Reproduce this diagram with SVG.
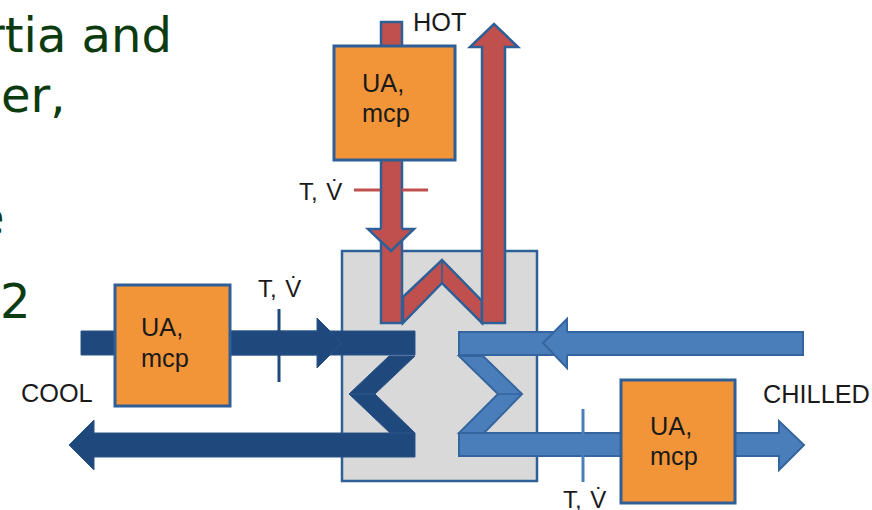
<svg xmlns="http://www.w3.org/2000/svg" width="872" height="510" viewBox="0 0 872 510">
<style>
.bg{font-family:"DejaVu Sans",sans-serif;font-size:48px;fill:#0d3b10}
.t{font-family:"Liberation Sans",Arial,sans-serif;font-size:25.3px;fill:#1a1a1a}
.s{font-family:"Liberation Sans",Arial,sans-serif;font-size:24px;word-spacing:2px;fill:#1a1a1a}
.box{fill:#f29539;stroke:#2f5f97;stroke-width:3}
.hx{fill:#d9d9d9;stroke:#2f5f97;stroke-width:2.5}
.red{fill:#c0504d;stroke:#2f5f97;stroke-width:2.5}
.dark{fill:#1f497d;stroke:#2a5487;stroke-width:1}
.blue{fill:#4a7ebb;stroke:#34659f;stroke-width:2}
</style>
<rect width="872" height="510" fill="#fff"/>
<g id="slide-text">
<text class="bg" x="-15" y="52">rtia and</text>
<text class="bg" x="1" y="112">er,</text>
<text class="bg" x="-25" y="234">e</text>
<text class="bg" x="0" y="318">2</text>
</g>
<g id="exchanger"><rect class="hx" x="342" y="251" width="195" height="230"/></g>
<g id="connectors">
<path class="red" d="M403 297L442 260L482 301V323L442 283L403 323Z"/>
<path d="M442 260V283" stroke="#2f5f97" stroke-width="1.5" fill="none"/>
<path class="red" d="M381 22H402V323H381Z"/>
<path class="red" d="M381 229H368L391 251L414 229H402"/>
<path class="red" d="M482 323V47H470L494 24L518 47H505V323Z"/>
<path d="M354 190H380M402 190H428" stroke="#c0504d" stroke-width="3" fill="none"/>
<path class="dark" d="M389 356L349 394L390 433H415L375 394L415 356Z"/>
<path d="M349 394H375" stroke="#2a5487" stroke-width="1.5" fill="none"/>
<path class="dark" d="M81 331H415V355H81Z"/>
<path class="dark" d="M230 331H317V318L342 343L317 368V355H230Z"/>
<path class="dark" d="M415 433V457H94V470L69 445L94 420V433Z"/>
<path d="M279 309V382" stroke="#1f497d" stroke-width="3" fill="none"/>
<path class="blue" d="M459 356H483L522 394L484 433H459L498 394Z"/>
<path d="M498 394H522" stroke="#34659f" stroke-width="1.5" fill="none"/>
<path class="blue" d="M459 332H803V355H459Z"/>
<path class="blue" d="M567 332V319L543 343L567 368V355"/>
<path class="blue" d="M459 433H622V456H459Z"/>
<path class="blue" d="M735 433H779V421L804 445L779 470V456H735Z"/>
<path d="M583 409V482" stroke="#4a7ebb" stroke-width="3" fill="none"/>
</g>
<g id="heater"><rect class="box" x="334" y="46" width="121" height="114"/><text class="t" x="362" y="92">UA,</text><text class="t" x="362" y="122">mcp</text></g>
<g id="cooler"><rect class="box" x="115" y="285" width="115" height="121"/><text class="t" x="141" y="336">UA,</text><text class="t" x="141" y="367">mcp</text></g>
<g id="chiller"><rect class="box" x="621" y="380" width="114" height="123"/><text class="t" x="650" y="435">UA,</text><text class="t" x="650" y="465">mcp</text></g>
<g id="labels">
<text class="t" x="413" y="31">HOT</text>
<text class="t" x="21" y="402">COOL</text>
<text class="t" x="763" y="403">CHILLED</text>
<text class="s" x="299" y="200">T, V̇</text>
<text class="s" x="258" y="297">T, V̇</text>
<text class="s" x="563" y="508">T, V̇</text>
</g>
</svg>
